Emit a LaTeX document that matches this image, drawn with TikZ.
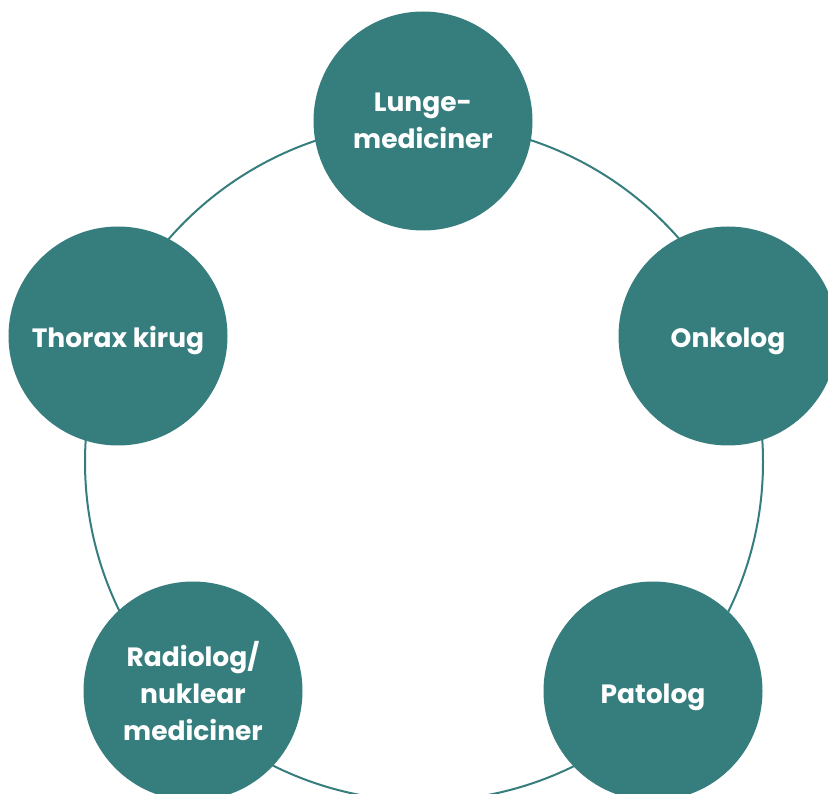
\documentclass[tikz,border=0pt]{standalone}
\usepackage{fontspec}
\setmainfont{Poppins}
\definecolor{teal}{RGB}{54,125,126}

\begin{document}
\begin{tikzpicture}[x=1pt, y=-1pt, team/.style={circle, fill=teal, text=white, minimum size=219pt, inner sep=0pt, align=center, font=\fontsize{26.5}{37}\selectfont\bfseries}, oneline/.style={text height=24pt, text depth=0pt}]

    \useasboundingbox (0,0) rectangle (828,794);
    \coordinate (ring) at (424,462);
    \draw[teal, line width=2pt] (ring) circle[radius=339pt];

    \node[team] (lunge)    at (423,121) {Lunge-\\mediciner};
    \node[team, oneline] (onkolog)  at (728,336) {Onkolog};
    \node[team, oneline] (patolog)  at (653,691) {Patolog};
    \node[team] (radiolog) at (193,691) {Radiolog/\\nuklear\\mediciner};
    \node[team, oneline] (thorax)   at (118,336) {Thorax kirug};

  \end{tikzpicture}
\end{document}
